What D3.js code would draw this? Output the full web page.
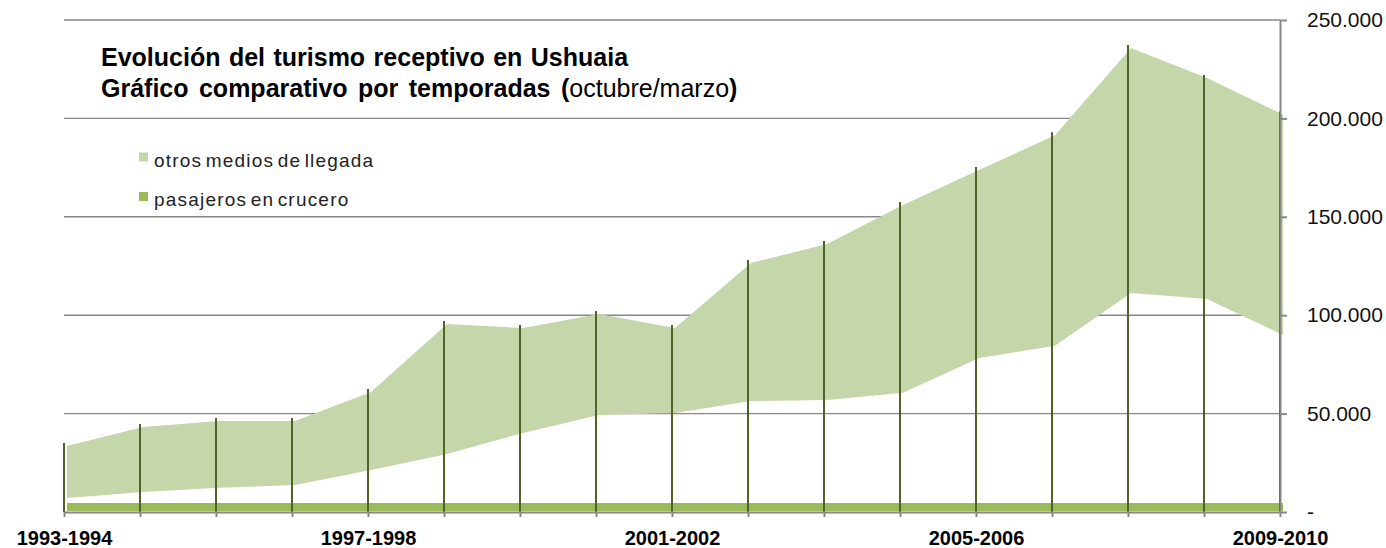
<!DOCTYPE html>
<html>
<head>
<meta charset="utf-8">
<script src="https://cdn.jsdelivr.net/npm/d3@7"></script>
<style>
  html, body { margin: 0; padding: 0; background: #fff; }
  svg { display: block; font-family: "Liberation Sans", Arial, sans-serif; }
</style>
</head>
<body>
<svg id="chart" width="1386" height="548"></svg>
<script>
// ---- data ----
const seasons = ["1993-1994","1994-1995","1995-1996","1996-1997","1997-1998","1998-1999","1999-2000","2000-2001","2001-2002","2002-2003","2003-2004","2004-2005","2005-2006","2006-2007","2007-2008","2008-2009","2009-2010"];
const labeledSeasons = ["1993-1994","1997-1998","2001-2002","2005-2006","2009-2010"];
const pasajerosCrucero = [8600, 11700, 13900, 15200, 22900, 31000, 41700, 50800, 51800, 57900, 58400, 62100, 79800, 86000, 112800, 109800, 91500];
const otrosMedios = [26400, 33000, 33900, 32600, 39600, 66000, 53300, 51300, 43200, 70100, 79300, 95400, 95500, 107000, 124500, 112200, 112000];
const yTickValues = [0, 50000, 100000, 150000, 200000, 250000];
const yTickLabels = ["-", "50.000", "100.000", "150.000", "200.000", "250.000"];
const seriesNames = ["otros medios de llegada", "pasajeros en crucero"];
const titleLine1 = "Evolución del turismo receptivo en Ushuaia";
const titleLine2a = "Gráfico comparativo por temporadas (";
const titleLine2b = "octubre/marzo";
const titleLine2c = ")";

// ---- styles ----
const bandColor = "#c4d6aa";
const cruiseColor = "#9bbb59";
const dropColor = "#4f6228";
const gridColor = "#888888";
const depth = 3;

const svg = d3.select("#chart");
const x = d3.scalePoint().domain(seasons).range([64, 1280]);
const y = d3.scaleLinear().domain([0, 250000]).range([512, 20]);

const rows = seasons.map((s, i) => ({season: s, crucero: pasajerosCrucero[i], otros: otrosMedios[i]}));
const stack = d3.stack().keys(["crucero", "otros"]);
const layers = stack(rows);

// gridlines
svg.append("g").selectAll("line")
  .data(yTickValues.filter(v => v > 0))
  .join("line")
  .attr("x1", x.range()[0]).attr("x2", x.range()[1])
  .attr("y1", d => y(d)).attr("y2", d => y(d))
  .attr("stroke", gridColor).attr("stroke-width", 1.4);

// band: otros medios de llegada (stacked on top of cruise passengers)
const area = d3.area()
  .x(d => x(d.data.season))
  .y0(d => y(d[0]))
  .y1(d => y(d[1]));
svg.append("path")
  .datum(layers[1])
  .attr("transform", `translate(${depth},${depth})`)
  .attr("fill", bandColor)
  .attr("d", area);

// cruise floor strip
svg.append("rect")
  .attr("x", x(seasons[0]) + depth)
  .attr("width", x(seasons[seasons.length - 1]) - x(seasons[0]))
  .attr("y", y(0) - 9)
  .attr("height", 8)
  .attr("fill", cruiseColor);

// drop lines
svg.append("g").selectAll("line")
  .data(layers[1])
  .join("line")
  .attr("x1", d => x(d.data.season)).attr("x2", d => x(d.data.season))
  .attr("y1", y(0)).attr("y2", d => y(d[1]))
  .attr("stroke", dropColor).attr("stroke-width", 2);

// bottom axis
const xAxis = d3.axisBottom(x)
  .tickSize(5)
  .tickSizeOuter(0)
  .tickPadding(14)
  .tickFormat(d => labeledSeasons.includes(d) ? d : "");
const gx = svg.append("g").attr("transform", `translate(0,${y(0)})`).call(xAxis);
gx.selectAll("path, line").attr("stroke", gridColor).attr("stroke-width", 2);
gx.selectAll("text")
  .attr("fill", "#000")
  .style("font-size", "20px")
  .style("font-weight", "bold")
  .style("font-family", "'Liberation Sans', Arial, sans-serif");

// right axis
const yAxis = d3.axisRight(y)
  .tickValues(yTickValues)
  .tickSize(7)
  .tickSizeOuter(0)
  .tickPadding(20)
  .tickFormat((d, i) => yTickLabels[i]);
const gy = svg.append("g").attr("transform", `translate(${x.range()[1]},0)`).call(yAxis);
gy.selectAll("path, line").attr("stroke", gridColor).attr("stroke-width", 2);
gy.selectAll("text")
  .attr("fill", "#111")
  .style("font-size", "21px")
  .style("font-family", "'Liberation Sans', Arial, sans-serif");

// title
svg.append("text").attr("x", 101).attr("y", 66)
  .style("font-size", "25px").style("font-weight", "bold").style("word-spacing", "1.5px")
  .attr("fill", "#000").text(titleLine1);
const t2 = svg.append("text").attr("x", 101).attr("y", 97)
  .style("font-size", "25px").style("word-spacing", "3.5px").attr("fill", "#000");
t2.append("tspan").style("font-weight", "bold").text(titleLine2a);
t2.append("tspan").style("font-weight", "normal").text(titleLine2b);
t2.append("tspan").style("font-weight", "bold").text(titleLine2c);

// legend
const legend = svg.append("g");
const legendColors = [bandColor, cruiseColor];
seriesNames.forEach((name, i) => {
  const ly = 157 + i * 39.5;
  legend.append("rect").attr("x", 139).attr("y", ly - 4.5).attr("width", 9).attr("height", 9).attr("fill", legendColors[i]);
  legend.append("text").attr("x", 154).attr("y", ly + 9.5)
    .style("font-size", "19px").style("letter-spacing", "1.2px").style("word-spacing", "-3px")
    .attr("fill", "#222").text(name);
});
</script>
</body>
</html>
